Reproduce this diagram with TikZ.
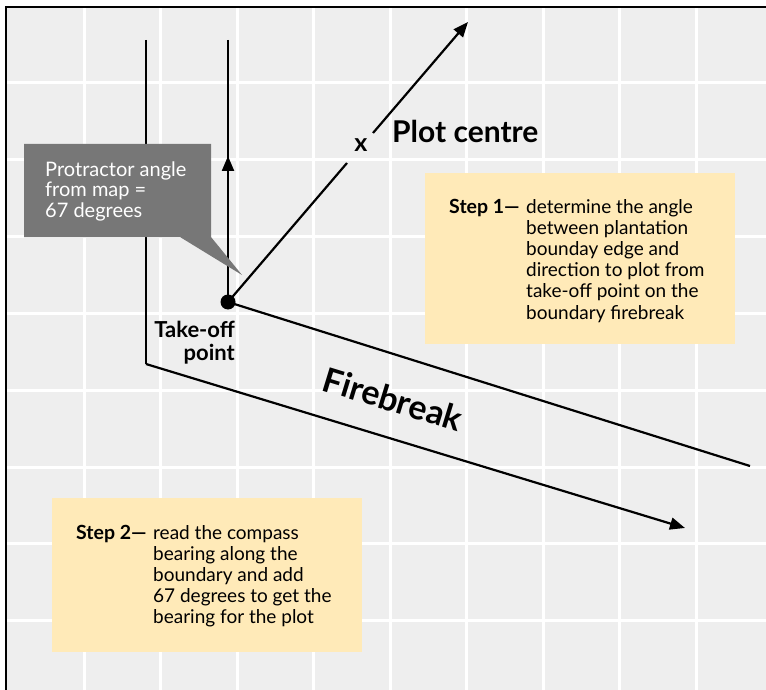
\documentclass[tikz,border=0pt]{standalone}
\usepackage{fontspec}
\setmainfont{Lato}
\usetikzlibrary{arrows.meta}
\definecolor{bg}{HTML}{EEEEEE}
\definecolor{callgrey}{HTML}{777777}
\definecolor{stepyellow}{HTML}{FFEAB8}
\newcommand{\toplines}[2]{\begin{tabular}[t]{@{}#1@{}}#2\end{tabular}}
\begin{document}
\begin{tikzpicture}[x=1pt,y=-1pt,
  mainline/.style={line width=2.2pt},
  tiparrow/.style={-{Triangle[length=15pt,width=12pt]}},
  gridline/.style={white,line width=3pt},
  stepbox/.style={fill=stepyellow,inner sep=0,anchor=north west,minimum width=310pt},
  steplabel/.style={anchor=base west,inner sep=0,font=\bfseries\fontsize{19.5}{21}\selectfont},
  steptext/.style={anchor=base west,inner sep=0,font=\fontsize{19}{21.2}\selectfont}]
\useasboundingbox (0,0) rectangle (766,690);
\fill[white] (0,0) rectangle (766,690);
\fill[bg] (6,7) rectangle (766,690);
\foreach \i in {0,...,8} \draw[gridline] ({84+76.5*\i},7) -- ({84+76.5*\i},690);
\foreach \j in {0,...,7} \draw[gridline] (6,{83+76.8*\j}) -- (766,{83+76.8*\j});
\draw[line width=1.5pt] (6,690) -- (6,7) -- (766,7);
% coordinates
\coordinate (btop) at (146,40);
\coordinate (bcorner) at (146,364);
\coordinate (bend) at (685,528);
\coordinate (vtop) at (228,40);
\coordinate (varrowA) at (228,176);
\coordinate (varrowB) at (228,156);
\coordinate (fbend) at (750,466);
\coordinate (gapA) at (347,163);
\coordinate (gapB) at (373,133);
\coordinate (pc) at (468,22);
\node[circle,fill=black,inner sep=0,minimum size=15pt] (tk) at (228,302) {};
% lines
\draw[mainline] (btop) -- (bcorner);
\draw[mainline,tiparrow] (bcorner) -- (bend);
\draw[mainline] (vtop) -- (tk.center);
\draw[mainline,tiparrow] (varrowA) -- (varrowB);
\draw[mainline] (tk.center) -- (fbend);
\draw[mainline] (tk.center) -- (gapA);
\draw[mainline,tiparrow] (gapB) -- (pc);
\node[inner sep=0,font=\bfseries\fontsize{25}{25}\selectfont] (xmark) at (361,145) {x};
\node[anchor=base west,inner sep=0,font=\bfseries\fontsize{30}{30}\selectfont] (plotc) at (392,143) {Plot centre};
% callout
\fill[callgrey] (24,144) -- (211,144) -- (211,237) -- (242,275) -- (180,237) -- (24,237) -- cycle;
\node[anchor=base west,inner sep=0,text=white,font=\fontsize{20}{20.5}\selectfont] (ctext) at (45,176) {\toplines{l}{Protractor angle\\from map =\\67 degrees}};
% take-off
\node[anchor=base east,inner sep=0,font=\bfseries\fontsize{22}{23}\selectfont] (tktext) at (235,337) {\toplines{r}{Take-off\\point}};
% firebreak
\node[rotate=-17,inner sep=0,font=\bfseries\fontsize{34}{34}\selectfont] (fb) at (393,399) {Firebreak};
% step 1
\node[stepbox,minimum height=171pt] (s1) at (425,173) {};
\node[steplabel] (s1lab) at (449,213) {Step 1—};
\node[steptext] (s1txt) at (526,213) {\toplines{l}{determine the angle\\between plantation\\bounday edge and\\direction to plot from\\take-off point on the\\boundary firebreak}};
% step 2
\node[stepbox,minimum height=154pt] (s2) at (52,498) {};
\node[steplabel] (s2lab) at (76,539) {Step 2—};
\node[steptext] (s2txt) at (153,539) {\toplines{l}{read the compass\\bearing along the\\boundary and add\\67 degrees to get the\\bearing for the plot}};
\end{tikzpicture}
\end{document}
